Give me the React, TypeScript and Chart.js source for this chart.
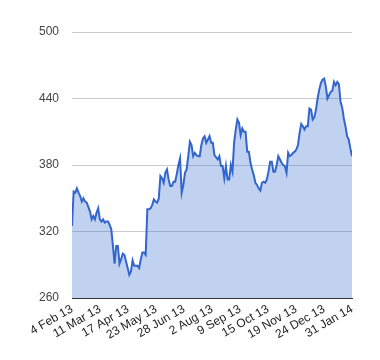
import React, { useEffect, useRef } from "react";
import { Chart, registerables } from "chart.js";

Chart.register(...registerables);

const tickLabels = [
  "4 Feb 13", "11 Mar 13", "17 Apr 13", "23 May 13", "28 Jun 13", "2 Aug 13",
  "9 Sep 13", "15 Oct 13", "19 Nov 13", "24 Dec 13", "31 Jan 14",
];

const pricesFirstHalf = [
  325, 356, 355, 359, 355, 352, 347, 350, 347, 346, 342, 338, 331, 334, 331, 337, 341,
  331, 329, 331, 328, 329, 329, 326, 322, 307, 291, 307, 307, 291, 295, 300, 299, 293,
  287, 281, 284, 294, 289, 289, 289, 287, 295, 301, 301, 299, 340, 340, 341, 344, 349,
  347, 346, 350, 370, 368, 364, 373, 376, 367, 361, 361, 365, 365, 372, 380, 386, 355, 362,
  373, 376, 388, 401, 398, 388, 391, 389, 388, 388, 398, 404, 406, 400, 403, 406,
];

const pricesSecondHalf = [
  400, 400, 389, 387, 385, 388, 379, 379, 368, 379, 367, 367, 380, 374, 400, 412,
  421, 418, 407, 413, 410, 410, 392, 392, 382, 376, 371, 364, 362, 359, 357, 364,
  365, 364, 367, 374, 383, 383, 374, 374, 380, 388, 385, 382, 380, 379, 373, 391,
  388, 389, 391, 392, 394, 398, 409, 417, 415, 412, 415, 415, 431, 430, 421, 423,
  430, 440, 448, 454, 457, 458, 451, 440, 443, 446, 447, 455, 452, 455, 453, 437,
  432, 422, 415, 406, 403, 395, 388,
];

const prices = [...pricesFirstHalf, ...pricesSecondHalf];

const yTicks = [260, 320, 380, 440, 500];

export default function App() {
  const ref = useRef<HTMLCanvasElement | null>(null);

  useEffect(() => {
    if (!ref.current) return;
    const n = prices.length - 1;
    const points = prices.map((v, i) => ({ x: i, y: v }));
    const chart = new Chart(ref.current, {
      type: "line",
      data: {
        datasets: [
          {
            data: points,
            borderColor: "#3366cc",
            backgroundColor: "rgba(51,102,204,0.3)",
            borderWidth: 2,
            pointRadius: 0,
            tension: 0,
            fill: "start",
          },
        ],
      },
      options: {
        animation: false,
        responsive: false,
        maintainAspectRatio: false,
        layout: { padding: { left: 0, right: 28, top: 32, bottom: 0 } },
        plugins: { legend: { display: false }, tooltip: { enabled: false } },
        scales: {
          x: {
            type: "linear",
            min: 0,
            max: n,
            grid: { display: false, drawTicks: false },
            border: { display: true, color: "#333333", width: 1 },
            afterBuildTicks: (scale: any) => {
              scale.ticks = tickLabels.map((_, i) => ({ value: (i * n) / (tickLabels.length - 1) }));
            },
            afterFit: (scale: any) => {
              scale.height = 62;
            },
            ticks: {
              autoSkip: false,
              minRotation: 30,
              maxRotation: 30,
              padding: 4,
              color: "#222222",
              font: { family: "Arial, 'Liberation Sans', sans-serif", size: 12 },
              callback: (_v: any, i: number) => tickLabels[i],
            },
          },
          y: {
            min: 260,
            max: 500,
            grid: { color: "#cccccc", drawTicks: false },
            border: { display: false },
            afterBuildTicks: (scale: any) => {
              scale.ticks = yTicks.map((v) => ({ value: v }));
            },
            afterFit: (scale: any) => {
              scale.width = 72;
            },
            ticks: {
              padding: 13,
              color: "#444444",
              font: { family: "Arial, 'Liberation Sans', sans-serif", size: 12 },
            },
          },
        },
      },
    });
    return () => chart.destroy();
  }, []);

  return (
    <div style={{ position: "fixed", left: 0, top: 0, width: 380, height: 360, background: "#fff" }}>
      <canvas ref={ref} width={380} height={360} style={{ width: 380, height: 360 }} />
    </div>
  );
}
